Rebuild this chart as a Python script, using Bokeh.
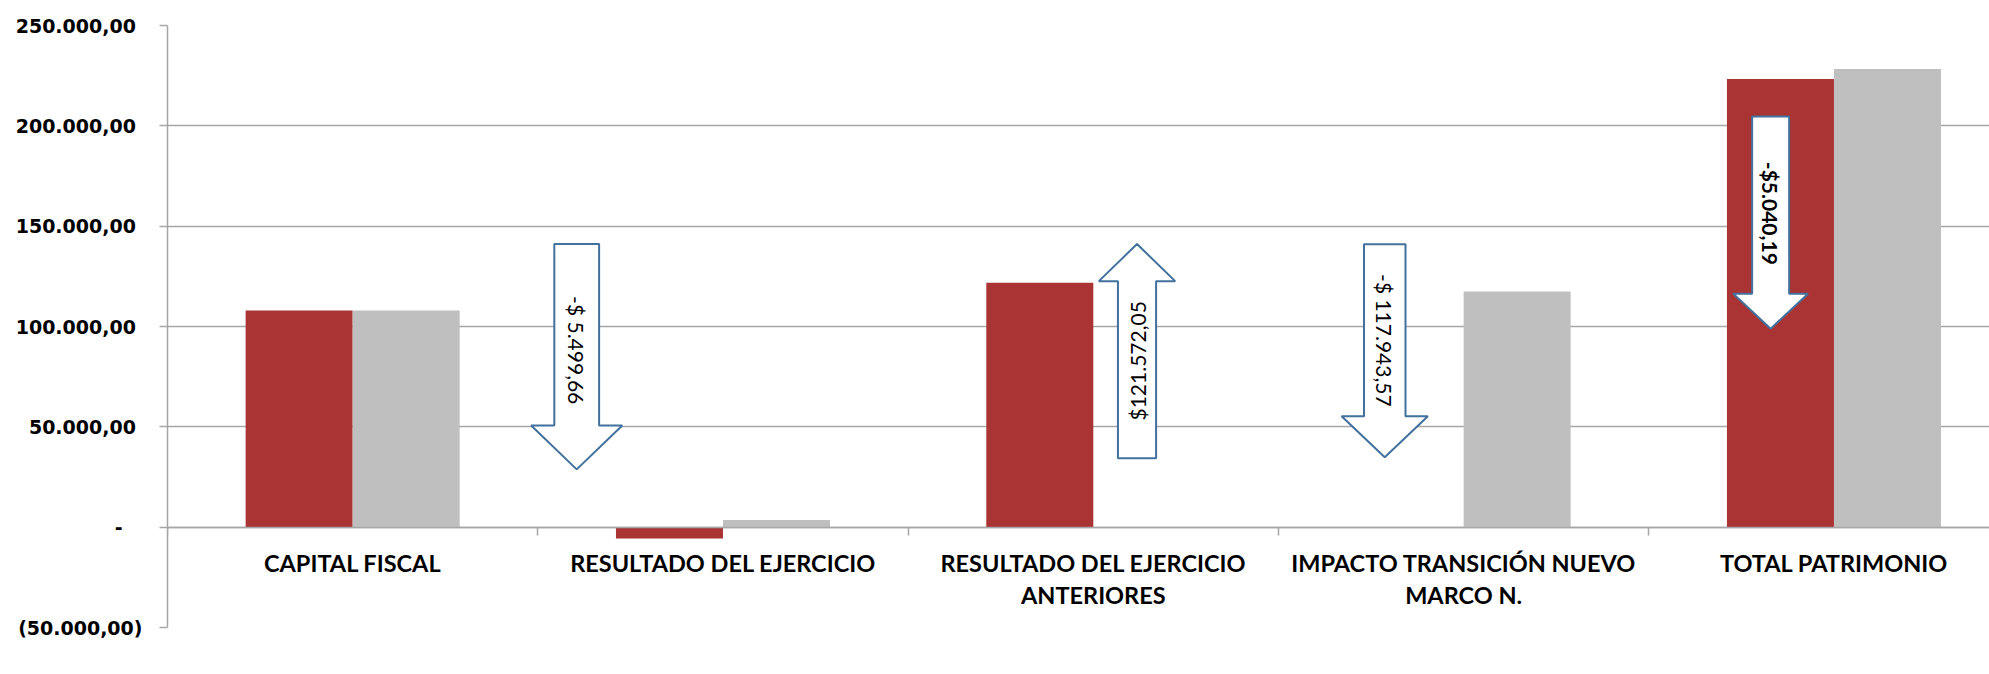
import math
from bokeh.plotting import figure
from bokeh.models import Range1d, FixedTicker, Legend, LegendItem, LinearAxis, ColumnDataSource
from bokeh.core.properties import value
from bokeh.transform import dodge
from bokeh.embed import file_html
from bokeh.resources import INLINE

# ---------------- data ----------------
categories = [
    "CAPITAL FISCAL",
    "RESULTADO DEL EJERCICIO",
    "RESULTADO DEL EJERCICIO\nANTERIORES",
    "IMPACTO TRANSICIÓN NUEVO\nMARCO N.",
    "TOTAL PATRIMONIO",
]
values_2019 = [108000, -5700, 121800, 0, 223300]
values_2018 = [108000, 3600, 0, 117500, 228300]
series_names = ["2019", "2018"]

y_ticks = [-50000, 0, 50000, 100000, 150000, 200000, 250000]
y_tick_labels = ["(50.000,00)", "-", "50.000,00", "100.000,00", "150.000,00", "200.000,00", "250.000,00"]

change_labels = ["-$ 5.499,66", "$121.572,05", "-$ 117.943,57", "-$5.040,19"]
change_category = [1, 2, 3, 4]
change_direction = [-1, 1, -1, -1]

# ---------------- annotation geometry (arrows) ----------------
arrow_offset = [0.105, 0.618, 0.287, 0.329]      # within category
arrow_shaft_hw = [0.0605, 0.0515, 0.056, 0.05]
arrow_head_hw = [0.123, 0.103, 0.1165, 0.101]
arrow_tail = [141100, 34300, 141000, 204700]
arrow_head_base = [50700, 122600, 55300, 116300]
arrow_tip = [28800, 141100, 34800, 98900]
label_y = [88200, 82900, 93100, 156400]
label_style = ["normal", "normal", "normal", "bold"]

RED = "#aa3333"
GRAY = "#bfbfbf"
LINE = "#a6a6a6"
BLUE = "#41719c"

n = len(categories)
x_centers = [i + 0.5 for i in range(n)]
bar_w = 0.289

p = figure(frame_width=1822, frame_height=602,
           x_range=Range1d(0, 4.92), y_range=Range1d(-50000, 250000),
           output_backend="svg", toolbar_location=None,
           x_axis_location=None,
           min_border_left=167, min_border_right=0, min_border_top=25, min_border_bottom=47)
p.outline_line_color = None
p.background_fill_color = "white"
p.border_fill_color = "white"

src = ColumnDataSource(dict(x=x_centers, v2019=values_2019, v2018=values_2018))
r19 = p.vbar(x=dodge("x", -bar_w / 2, range=p.x_range), top="v2019", bottom=0, width=bar_w,
             source=src, fill_color=RED, line_color=None)
r18 = p.vbar(x=dodge("x", bar_w / 2, range=p.x_range), top="v2018", bottom=0, width=bar_w,
             source=src, fill_color=GRAY, line_color=None)

# y axis
yt = FixedTicker(ticks=y_ticks)
p.yaxis.ticker = yt
ov = {}
for t, lab in zip(y_ticks, y_tick_labels):
    if lab.startswith("("):
        ov[t] = lab
    elif lab == "-":
        ov[t] = "-\u00a0\u00a0\u00a0"
    else:
        ov[t] = lab + "\u00a0"
p.yaxis.major_label_overrides = ov
p.yaxis.major_label_text_font = "DejaVu Sans"
p.yaxis.major_label_text_font_style = "bold"
p.yaxis.major_label_text_font_size = "19px"
p.yaxis.major_label_text_color = "black"
p.yaxis.major_label_standoff = 17
p.yaxis.major_tick_out = 8
p.yaxis.major_tick_in = 0
p.yaxis.minor_tick_line_color = None
p.yaxis.major_tick_line_color = LINE
p.yaxis.axis_line_color = LINE
p.yaxis.axis_line_width = 1.5
p.yaxis.major_tick_line_width = 1.5

p.xgrid.visible = False
p.ygrid.ticker = yt
p.ygrid.grid_line_color = LINE
p.ygrid.grid_line_width = 1.5

# legend first in the bottom panel (closest to the frame)
legend = Legend(items=[LegendItem(label=series_names[0], renderers=[r19]),
                       LegendItem(label=series_names[1], renderers=[r18])],
                orientation="horizontal", location=(737, 0),
                glyph_width=18, glyph_height=18, label_standoff=7, spacing=22,
                padding=23, margin=0, border_line_alpha=0, background_fill_alpha=0,
                label_text_font="Lato", label_text_font_size="25px")
p.add_layout(legend, "below")

# x axis at y = 0
xaxis = LinearAxis(fixed_location=0,
                   ticker=FixedTicker(ticks=x_centers, minor_ticks=list(range(n + 1))),
                   major_label_overrides={c: lab for c, lab in zip(x_centers, categories)})
xaxis.major_label_text_font = "Lato"
xaxis.major_label_text_font_style = "bold"
xaxis.major_label_text_font_size = "23.5px"
xaxis.major_label_text_line_height = 1.15
xaxis.major_label_text_color = "black"
xaxis.major_label_standoff = 14
xaxis.major_tick_line_color = None
xaxis.major_tick_out = 0
xaxis.major_tick_in = 0
xaxis.minor_tick_out = 8
xaxis.minor_tick_in = 0
xaxis.minor_tick_line_color = LINE
xaxis.minor_tick_line_width = 1.5
xaxis.axis_line_color = LINE
xaxis.axis_line_width = 1.5
p.add_layout(xaxis, "below")

# arrows
xs, ys = [], []
for c, off, sw, hw, tail, hb, tip in zip(change_category, arrow_offset, arrow_shaft_hw,
                                         arrow_head_hw, arrow_tail, arrow_head_base, arrow_tip):
    cx = c + off
    xs.append([cx - sw, cx + sw, cx + sw, cx + hw, cx, cx - hw, cx - sw])
    ys.append([tail, tail, hb, hb, tip, hb, hb])
p.patches(xs, ys, fill_color="white", line_color=BLUE, line_width=2)

tsrc = ColumnDataSource(dict(
    x=[c + off for c, off in zip(change_category, arrow_offset)],
    y=label_y, text=change_labels, style=label_style,
    angle=[d * math.pi / 2 for d in change_direction]))
p.text(x="x", y="y", text="text", source=tsrc, angle="angle",
       text_align="center", text_baseline="middle",
       text_font=value("Lato"), text_font_size="21px", text_font_style="style",
       text_color="black")

open("out.html", "w").write(file_html(p, INLINE))
